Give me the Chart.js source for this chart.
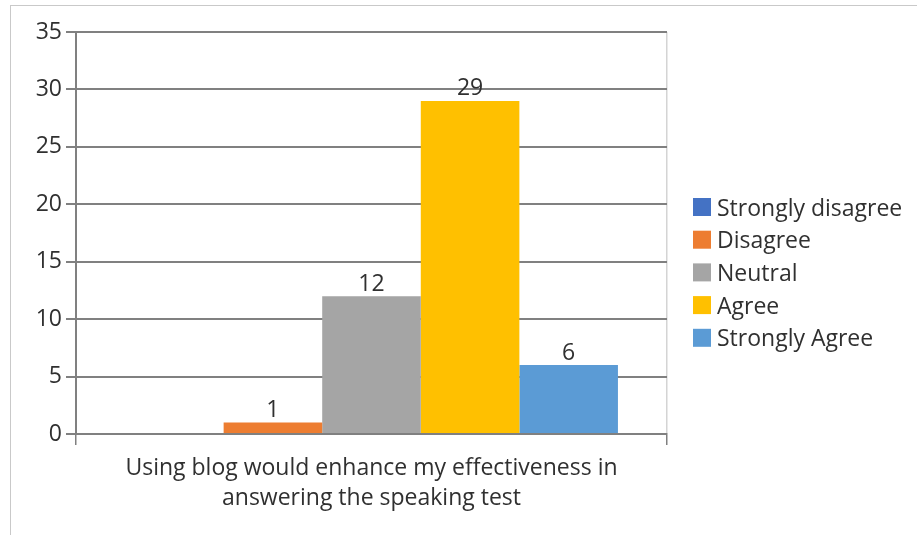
<!DOCTYPE html>
<html>
<head>
<meta charset="utf-8">
<script src="https://cdn.jsdelivr.net/npm/chart.js@4.4.1/dist/chart.umd.min.js"></script>
<style>
  html, body { margin: 0; padding: 0; background: #fff; }
  #wrap { position: relative; width: 917px; height: 535px; overflow: hidden; }
  #frame { position: absolute; left: 10px; top: 5px; width: 940px; height: 560px; border: 1px solid #c9c9c9; box-sizing: border-box; }
  #cv { position: absolute; left: 0; top: 0; }
</style>
</head>
<body>
<div id="wrap">
  <div id="frame"></div>
  <canvas id="cv" width="917" height="535"></canvas>
</div>
<script>
  // survey item and answer counts
  const categories = [['Using blog would enhance my effectiveness in', 'answering the speaking test']];
  const seriesNames = ['Strongly disagree', 'Disagree', 'Neutral', 'Agree', 'Strongly Agree'];
  const seriesValues = [0, 1, 12, 29, 6];
  const seriesColors = ['#4472C4', '#ED7D31', '#A5A5A5', '#FFC000', '#5B9BD5'];
  const yTicks = [0, 5, 10, 15, 20, 25, 30, 35];

  const FONT = '"Open Sans", sans-serif';
  const FSIZE = 23;
  const TXT = '#303030';

  // value above each bar (zero bars get nothing)
  const valueLabels = {
    id: 'valueLabels',
    afterDatasetsDraw(chart) {
      const ctx = chart.ctx;
      ctx.save();
      ctx.font = FSIZE + 'px ' + FONT;
      ctx.fillStyle = TXT;
      ctx.textAlign = 'center';
      ctx.textBaseline = 'middle';
      chart.data.datasets.forEach((ds, i) => {
        const v = ds.data[0];
        if (!v) return;
        const bar = chart.getDatasetMeta(i).data[0];
        ctx.fillText(String(v), bar.x, bar.y - 12);
      });
      ctx.restore();
    }
  };

  // legend column on the right
  const sideLegend = {
    id: 'sideLegend',
    afterDraw(chart) {
      const ctx = chart.ctx;
      const x0 = 693, y0 = 207, step = 32.7, box = 18;
      ctx.save();
      ctx.font = FSIZE + 'px ' + FONT;
      ctx.textBaseline = 'middle';
      chart.data.datasets.forEach((ds, i) => {
        const cy = y0 + i * step;
        ctx.fillStyle = ds.backgroundColor;
        ctx.fillRect(x0, cy - box / 2, box, box);
        ctx.fillStyle = TXT;
        ctx.fillText(ds.label, x0 + box + 6, cy + 2);
      });
      ctx.restore();
    }
  };

  new Chart(document.getElementById('cv').getContext('2d'), {
    type: 'bar',
    data: {
      labels: categories,
      datasets: seriesNames.map((name, i) => ({
        label: name,
        data: [seriesValues[i]],
        backgroundColor: seriesColors[i],
        borderWidth: 0,
        categoryPercentage: 0.834,
        barPercentage: 1.0,
      })),
    },
    options: {
      responsive: false,
      animation: false,
      devicePixelRatio: 1,
      layout: { padding: { left: 0, top: 32, right: 250, bottom: 0 } },
      plugins: { legend: { display: false }, tooltip: { enabled: false } },
      scales: {
        x: {
          afterFit(s) { s.height = 101; },
          grid: { color: '#d4d4d4', lineWidth: 1.5, tickColor: '#808080', tickLength: 11, offset: true },
          border: { color: '#808080', width: 2 },
          ticks: { color: TXT, font: { family: FONT, size: FSIZE, lineHeight: 1.3 }, padding: 9, maxRotation: 0 },
        },
        y: {
          min: yTicks[0],
          max: yTicks[yTicks.length - 1],
          afterFit(s) { s.width = 76; },
          afterBuildTicks(s) { s.ticks = yTicks.map((v) => ({ value: v })); },
          grid: { color: '#808080', lineWidth: 2, tickLength: 10 },
          border: { color: '#808080', width: 2 },
          ticks: { color: TXT, font: { family: FONT, size: FSIZE }, padding: 4 },
        },
      },
    },
    plugins: [valueLabels, sideLegend],
  });
</script>
</body>
</html>
